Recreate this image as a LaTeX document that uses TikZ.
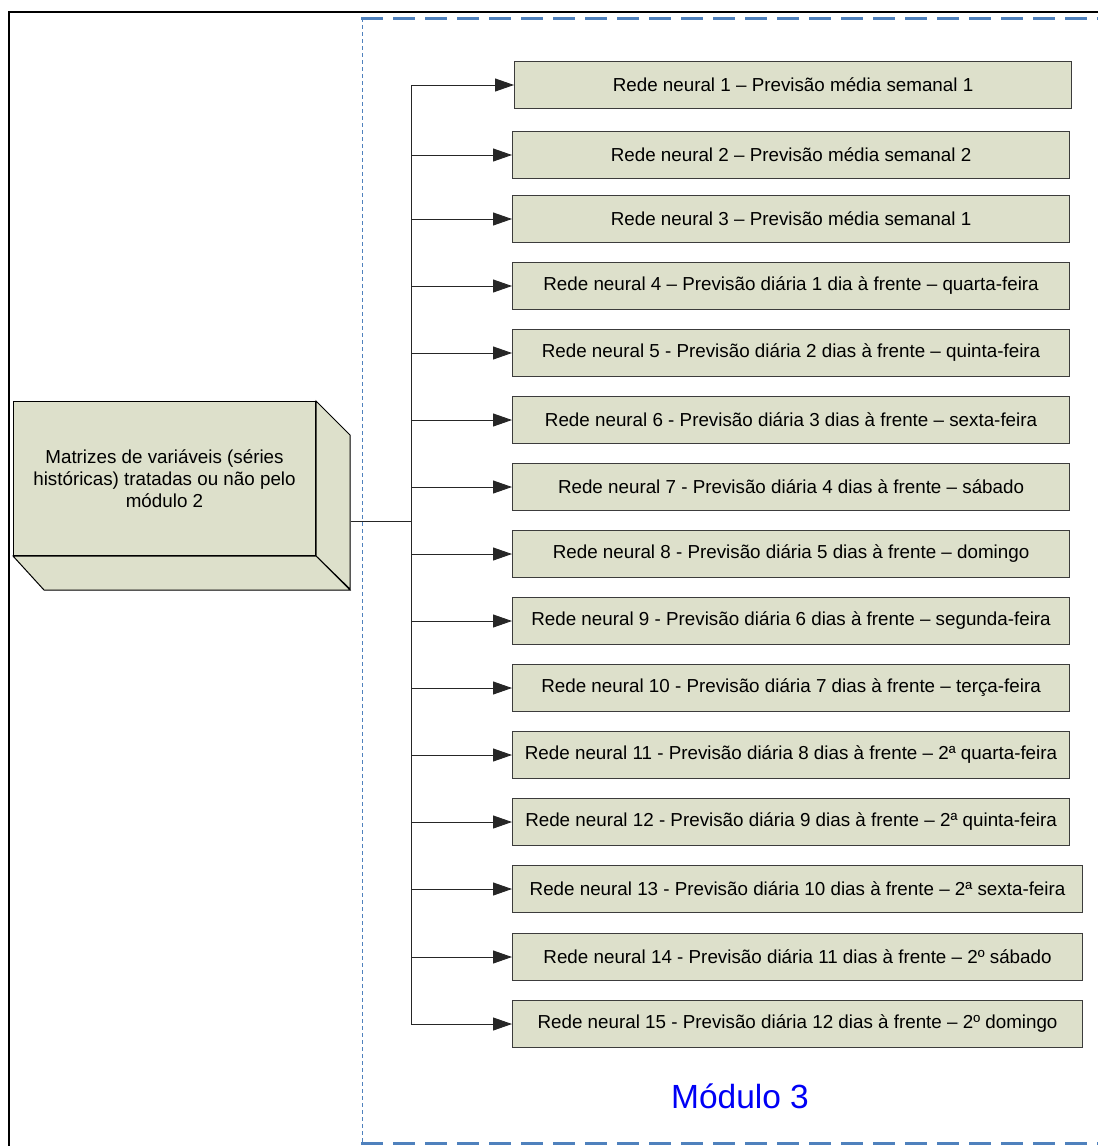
\documentclass[tikz,border=0pt]{standalone}
\usepackage{fontspec}
\setmainfont{Liberation Sans}
\usetikzlibrary{arrows.meta}
\definecolor{boxfill}{RGB}{221,224,203}
\definecolor{modblue}{RGB}{79,129,189}
\definecolor{edgegray}{RGB}{60,60,60}
\definecolor{titleblue}{RGB}{0,0,245}
\begin{document}
\begin{tikzpicture}[x=1pt,y=-1pt,
  rn/.style={draw=edgegray, line width=1.1pt, fill=boxfill, minimum height=47pt,
    inner sep=0pt, anchor=west, font=\fontsize{18.8}{22}\selectfont},
  rnw/.style={rn, minimum width=557pt},
  rnx/.style={rn, minimum width=570pt},
  conn/.style={draw=black!85, line width=0.9pt},
  arr/.style={conn, -{Triangle[length=19pt,width=13pt]}},
  face/.style={draw=black, line width=1pt, fill=boxfill, line join=miter}
]
\useasboundingbox (0,0) rectangle (1098,1146);
% outer frame
\draw[line width=2pt] (1098,12) -- (9,12) -- (9,1146);
% module 3 region
\draw[modblue, line width=3pt, dash pattern=on 22pt off 10pt] (361,18) -- (1098,18);
\draw[modblue, line width=3pt, dash pattern=on 22pt off 10pt] (361,1143) -- (1098,1143);
\draw[modblue, line width=0.8pt, dash pattern=on 4pt off 3pt] (362,18) -- (362,1143);

% input 3D box
\node[draw=black, line width=1pt, fill=boxfill, minimum width=302pt, minimum height=154pt,
  inner sep=0pt, anchor=north west, align=center,
  font=\fontsize{18.8}{22}\selectfont] (m) at (13,401)
  {Matrizes de variáveis (séries\\históricas) tratadas ou não pelo\\módulo 2};
\draw[face] (m.north east) -- ++(34,34) -- ++(0,154) -- (m.south east) -- cycle;
\draw[face] (m.south west) -- (m.south east) -- ++(34,34) -- ++(-306,0) -- cycle;

% network boxes
\node[rnw] (r1) at (514,85) {Rede neural 1 – Previsão média semanal 1};
\node[rnw] (r2) at (512,155) {Rede neural 2 – Previsão média semanal 2};
\node[rnw] (r3) at (512,219) {Rede neural 3 – Previsão média semanal 1};
\node[rnw] (r4) at (512,286) {Rede neural 4 – Previsão diária 1 dia à frente – quarta-feira};
\node[rnw] (r5) at (512,353) {Rede neural 5 - Previsão diária 2 dias à frente – quinta-feira};
\node[rnw] (r6) at (512,420) {Rede neural 6 - Previsão diária 3 dias à frente – sexta-feira};
\node[rnw] (r7) at (512,487) {Rede neural 7 - Previsão diária 4 dias à frente – sábado};
\node[rnw] (r8) at (512,554) {Rede neural 8 - Previsão diária 5 dias à frente – domingo};
\node[rnw] (r9) at (512,621) {Rede neural 9 - Previsão diária 6 dias à frente – segunda-feira};
\node[rnw] (r10) at (512,688) {Rede neural 10 - Previsão diária 7 dias à frente – terça-feira};
\node[rnw] (r11) at (512,755) {Rede neural 11 - Previsão diária 8 dias à frente – 2ª quarta-feira};
\node[rnw] (r12) at (512,822) {Rede neural 12 - Previsão diária 9 dias à frente – 2ª quinta-feira};
\node[rnx] (r13) at (512,889) {Rede neural 13 - Previsão diária 10 dias à frente – 2ª sexta-feira};
\node[rnx] (r14) at (512,957) {Rede neural 14 - Previsão diária 11 dias à frente – 2º sábado};
\node[rnx] (r15) at (512,1024) {Rede neural 15 - Previsão diária 12 dias à frente – 2º domingo};

% connectors
\coordinate (tk) at (411,521);
\coordinate (ms) at (351,521);
\draw[conn] (ms) -- (tk);
\draw[conn] (r1.west -| tk) -- (r15.west -| tk);
\foreach \i in {1,...,15}{
  \draw[arr] (r\i.west -| tk) -- (r\i.west);
}

\node[text=titleblue, font=\fontsize{33.5}{38}\selectfont] (mod) at (740,1096) {Módulo 3};
\end{tikzpicture}
\end{document}
